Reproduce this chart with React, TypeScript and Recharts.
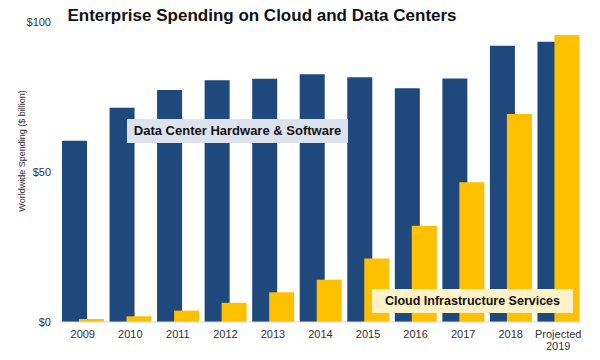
import { BarChart, Bar, XAxis, YAxis } from "recharts";

const years = ["2009", "2010", "2011", "2012", "2013", "2014", "2015", "2016", "2017", "2018", "Projected\n2019"];
const dataCenter = [60.4, 71.4, 77.3, 80.6, 81.1, 82.6, 81.6, 77.9, 81.2, 92.1, 93.4];
const cloud = [1, 1.9, 3.8, 6.4, 9.9, 14.1, 21.2, 32.1, 46.6, 69.3, 95.7];
const yTicks = [0, 50, 100];

const data = years.map((year, i) => ({ year, dataCenter: dataCenter[i], cloud: cloud[i] }));

const FONT = '"Liberation Sans", Arial, sans-serif';

const YearTick = ({ x, y, payload }: any) => {
  const lines = String(payload.value).split("\n");
  return (
    <text x={x} y={y} textAnchor="middle" fill="#333" fontSize={11} fontFamily={FONT}>
      {lines.map((line, i) => (
        <tspan key={i} x={x} dy={i === 0 ? "0.71em" : "1.15em"}>
          {line}
        </tspan>
      ))}
    </text>
  );
};

const App = () => {
  return (
    <div style={{ position: "relative", width: 600, height: 360, margin: -8, background: "#fff", fontFamily: FONT, overflow: "hidden" }}>
      <BarChart
        width={600}
        height={360}
        data={data}
        margin={{ top: 22, right: 18, bottom: 8, left: 8 }}
        barGap={-8}
        barSize={25}
      >
        <XAxis
          dataKey="year"
          interval={0}
          tickLine={false}
          axisLine={{ stroke: "#d9d9d9" }}
          height={30}
          tick={<YearTick />}
        />
        <YAxis
          type="number"
          domain={[0, 100]}
          ticks={yTicks}
          width={51}
          axisLine={false}
          tickLine={false}
          tickFormatter={(v: number) => `$${v}`}
          tick={{ fill: "#333", fontSize: 11, fontFamily: FONT }}
        />
        <Bar dataKey="dataCenter" fill="#1F497D" isAnimationActive={false} />
        <Bar dataKey="cloud" fill="#FFC000" isAnimationActive={false} />
      </BarChart>

      <div style={{ position: "absolute", left: 0, width: 524, top: 6, textAlign: "center", fontSize: 17, fontWeight: "bold", color: "#111", whiteSpace: "nowrap" }}>
        Enterprise Spending on Cloud and Data Centers
      </div>

      <div
        style={{
          position: "absolute",
          left: 22,
          top: 151,
          transform: "translate(-50%, -50%) rotate(-90deg)",
          whiteSpace: "nowrap",
          fontSize: 9,
          color: "#333",
        }}
      >
        Worldwide Spending ($ billion)
      </div>

      <div
        style={{
          position: "absolute",
          left: 127,
          top: 119,
          width: 221,
          height: 24,
          lineHeight: "24px",
          background: "#DCE3EE",
          textAlign: "center",
          fontWeight: "bold",
          fontSize: 13,
          color: "#111",
          whiteSpace: "nowrap",
        }}
      >
        Data Center Hardware &amp; Software
      </div>

      <div
        style={{
          position: "absolute",
          left: 372,
          top: 289,
          width: 201,
          height: 24,
          lineHeight: "24px",
          background: "#FFF2C6",
          textAlign: "center",
          fontWeight: "bold",
          fontSize: 12.5,
          color: "#111",
          whiteSpace: "nowrap",
        }}
      >
        Cloud Infrastructure Services
      </div>

      <div style={{ position: "absolute", left: 6, top: 351, fontSize: 10, color: "#333", whiteSpace: "nowrap" }}>
        Source: Synergy Research Group
      </div>
    </div>
  );
};

export default App;
